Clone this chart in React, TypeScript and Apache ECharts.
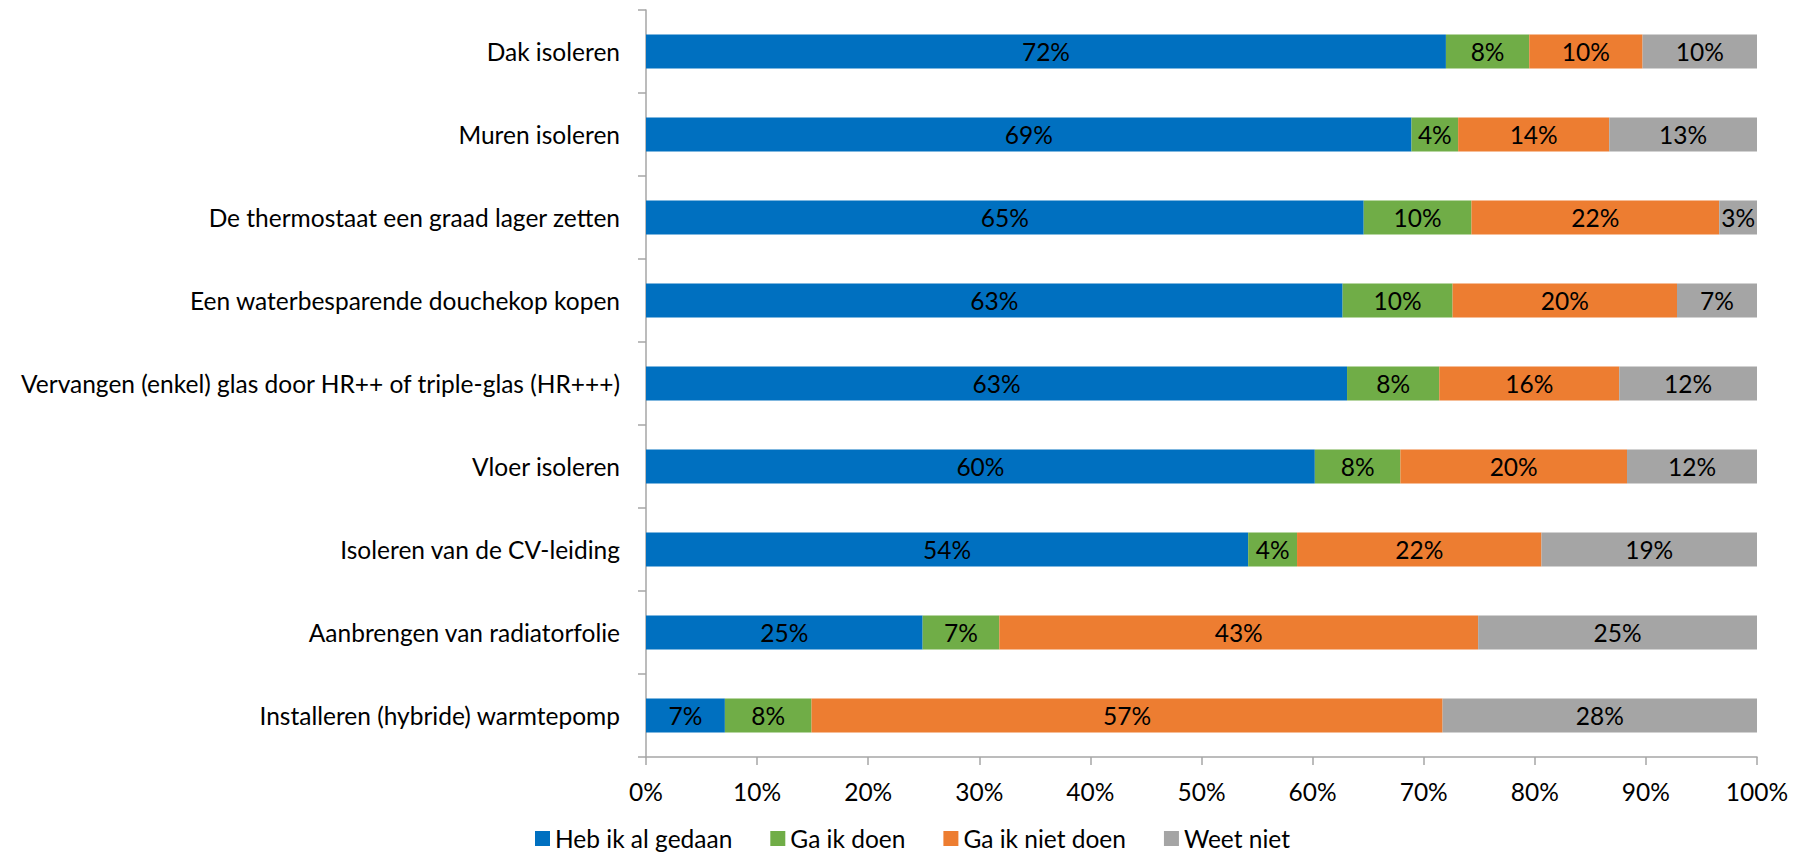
import React, { useEffect, useRef } from "react";
import * as echarts from "echarts";

const categories = [
  "Dak isoleren",
  "Muren isoleren",
  "De thermostaat een graad lager zetten",
  "Een waterbesparende douchekop kopen",
  "Vervangen (enkel) glas door HR++ of triple-glas (HR+++)",
  "Vloer isoleren",
  "Isoleren van de CV-leiding",
  "Aanbrengen van radiatorfolie",
  "Installeren (hybride) warmtepomp",
];

const seriesNames = ["Heb ik al gedaan", "Ga ik doen", "Ga ik niet doen", "Weet niet"];

const hebIkAlGedaan = [72.0, 68.9, 64.6, 62.7, 63.1, 60.2, 54.2, 24.9, 7.1];
const gaIkDoen = [7.5, 4.2, 9.7, 9.9, 8.3, 7.7, 4.4, 6.9, 7.8];
const gaIkNietDoen = [10.2, 13.6, 22.3, 20.2, 16.2, 20.4, 22.0, 43.1, 56.8];
const weetNiet = [10.3, 13.3, 3.4, 7.2, 12.4, 11.7, 19.4, 25.1, 28.3];

const colors = ["#0070C0", "#70AD47", "#ED7D31", "#A5A5A5"];

const FONT = "Lato";
const FS = 24.5;

export default function App() {
  const ref = useRef<HTMLDivElement>(null);
  useEffect(() => {
    if (!ref.current) return;
    const chart = echarts.init(ref.current, undefined, { renderer: "svg" });
    const values = [hebIkAlGedaan, gaIkDoen, gaIkNietDoen, weetNiet];
    chart.setOption({
      animation: false,
      textStyle: { fontFamily: FONT },
      grid: { left: 646, right: 43, top: 10, bottom: 102, containLabel: false },
      legend: {
        data: seriesNames,
        left: 535,
        top: 826,
        padding: 0,
        itemWidth: 15,
        itemHeight: 15,
        itemGap: 38,
        icon: "rect",
        textStyle: { fontFamily: FONT, fontSize: FS, color: "#000", lineHeight: 24 },
      },
      xAxis: {
        type: "value",
        min: 0,
        max: 100,
        interval: 10,
        axisLabel: {
          formatter: "{value}%",
          fontFamily: FONT,
          fontSize: FS,
          color: "#000",
          margin: 22,
        },
        axisLine: { show: true, lineStyle: { color: "#A6A6A6", width: 1.5 } },
        axisTick: { show: true, length: 8, lineStyle: { color: "#A6A6A6", width: 1.5 } },
        splitLine: { show: false },
      },
      yAxis: {
        type: "category",
        data: categories,
        inverse: true,
        axisLabel: { fontFamily: FONT, fontSize: FS, color: "#000", margin: 26 },
        axisLine: { show: true, lineStyle: { color: "#A6A6A6", width: 1.5 } },
        axisTick: { show: true, length: 8, alignWithLabel: false, lineStyle: { color: "#A6A6A6", width: 1.5 } },
      },
      series: seriesNames.map((name, i) => ({
        name,
        type: "bar",
        stack: "total",
        barWidth: 34,
        data: values[i],
        itemStyle: { color: colors[i] },
        label: {
          show: true,
          position: "inside",
          color: "#000",
          fontFamily: FONT,
          fontSize: FS,
          formatter: (p: any) => `${Math.round(p.value)}%`,
        },
      })),
    });
    return () => chart.dispose();
  }, []);
  return <div ref={ref} style={{ width: 1800, height: 859, position: "absolute", left: 0, top: 0 }} />;
}
